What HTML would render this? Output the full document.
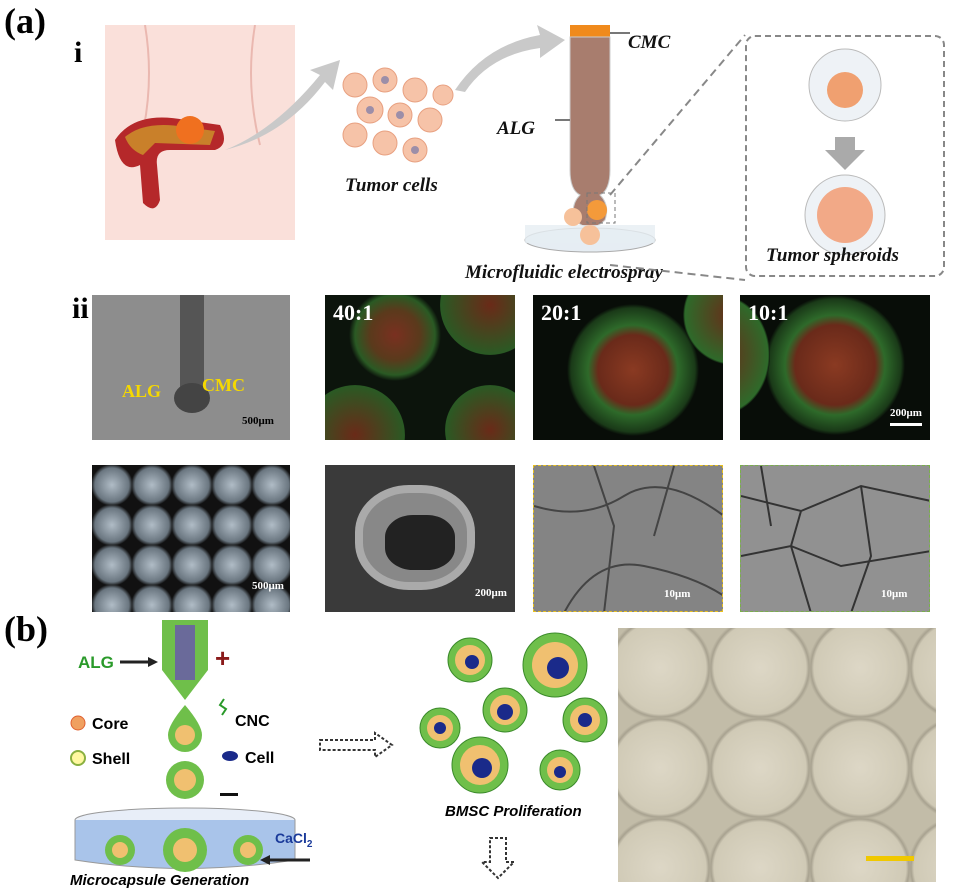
<!DOCTYPE html>
<html><head><meta charset="utf-8"><style>
body{margin:0;width:955px;height:890px;background:#fff;position:relative;overflow:hidden;font-family:"Liberation Serif",serif}
.a{position:absolute}
.lbl{font-weight:bold;font-style:italic;font-size:19px;color:#111}
.img{position:absolute;overflow:hidden}
.t{position:absolute;font-family:"Liberation Serif",serif;font-weight:bold;color:#fff}
.sb{position:absolute;height:3px;background:#fff}
</style></head><body>
<div class="a" style="left:4px;top:0;font-size:36px;font-weight:bold">(a)</div>
<div class="a" style="left:74px;top:36px;font-size:30px;font-weight:bold">i</div>
<svg class="a" style="left:95px;top:25px" width="215" height="220">
<path d="M10 0 H200 V215 H10 Z" fill="#fae0da"/>
<path d="M50 0 Q60 60 45 120 M160 0 Q150 60 165 120" stroke="#eab8b0" fill="none" stroke-width="2"/>
<path d="M20 115 Q40 85 90 95 L125 100 Q135 120 120 125 L75 125 Q60 125 62 140 L65 175 Q60 190 48 178 L45 140 Q25 150 20 115Z" fill="#b5282a"/>
<path d="M30 112 Q50 95 90 102 L120 106 L115 120 L60 118 L48 130 Q35 125 30 112Z" fill="#c9802a"/>
<circle cx="95" cy="105" r="14" fill="#f0701f"/>
</svg>
<svg class="a" style="left:215px;top:10px" width="360" height="160">
<path d="M10 140 Q60 120 105 65 L95 60 L125 50 L118 80 L110 72 Q70 125 10 140Z" fill="#c9c9c9"/>
<path d="M240 80 Q270 35 325 25 L322 15 L350 30 L325 48 L325 38 Q275 45 250 82Z" fill="#c9c9c9"/>
</svg>
<svg class="a" style="left:335px;top:65px" width="125" height="105">
<g fill="#f6c3a8" stroke="#e8a080">
<circle cx="20" cy="20" r="12"/><circle cx="50" cy="15" r="12"/><circle cx="80" cy="25" r="12"/><circle cx="35" cy="45" r="13"/><circle cx="65" cy="50" r="12"/><circle cx="95" cy="55" r="12"/><circle cx="20" cy="70" r="12"/><circle cx="50" cy="78" r="12"/><circle cx="80" cy="85" r="12"/><circle cx="108" cy="30" r="10"/></g>
<g fill="#9c8ea8"><circle cx="50" cy="15" r="4"/><circle cx="35" cy="45" r="4"/><circle cx="80" cy="85" r="4"/><circle cx="65" cy="50" r="4"/></g>
</svg>
<div class="a lbl" style="left:345px;top:175px">Tumor cells</div>
<svg class="a" style="left:515px;top:25px" width="150" height="245">
<rect x="55" y="0" width="40" height="12" fill="#f08a1c"/>
<path d="M55 12 V145 Q55 165 65 170 Q55 180 60 195 Q75 210 90 195 Q95 180 85 170 Q95 165 95 145 V12Z" fill="#a87d6e" stroke="#ccc"/>
<path d="M95 8 H115" stroke="#777" stroke-width="2"/><path d="M55 95 H40" stroke="#777" stroke-width="2"/>
<ellipse cx="75" cy="215" rx="65" ry="12" fill="#e6edf3" stroke="#aaa"/>
<rect x="10" y="200" width="130" height="18" fill="#e6edf3" opacity=".8"/>
<circle cx="82" cy="185" r="10" fill="#f49a3a"/><circle cx="58" cy="192" r="9" fill="#f6c19a"/><circle cx="75" cy="210" r="10" fill="#f6c19a"/>
<rect x="72" y="168" width="28" height="30" fill="none" stroke="#777" stroke-dasharray="4 3"/>
</svg>
<div class="a lbl" style="left:628px;top:32px">CMC</div>
<div class="a lbl" style="left:497px;top:118px">ALG</div>
<div class="a lbl" style="left:465px;top:262px">Microfluidic electrospray</div>
<svg class="a" style="left:600px;top:30px" width="150" height="260"><path d="M10 165 L145 5 M10 235 L145 250" stroke="#888" stroke-width="2" stroke-dasharray="8 5"/></svg>
<div class="a" style="left:745px;top:35px;width:196px;height:238px;border:2.5px dashed #888;border-radius:10px"></div>
<svg class="a" style="left:790px;top:45px" width="110" height="210">
<circle cx="55" cy="40" r="36" fill="#eef2f6" stroke="#bbb"/><circle cx="55" cy="45" r="18" fill="#f0a070"/>
<path d="M45 92 H65 V105 H75 L55 125 L35 105 H45Z" fill="#aaa"/>
<circle cx="55" cy="170" r="40" fill="#eef2f6" stroke="#bbb"/><circle cx="55" cy="170" r="28" fill="#f2a987"/>
</svg>
<div class="a lbl" style="left:766px;top:245px">Tumor spheroids</div>
<div class="a" style="left:72px;top:292px;font-size:30px;font-weight:bold">ii</div>
<div class="img" style="left:92px;top:295px;width:198px;height:145px;background:#8d8d8d">
<div class="a" style="left:88px;top:0;width:24px;height:100px;background:#555"></div>
<div class="a" style="left:82px;top:88px;width:36px;height:30px;border-radius:50%;background:#444"></div>
<div class="t" style="left:30px;top:86px;color:#f5d800;font-size:18px">ALG</div>
<div class="t" style="left:110px;top:80px;color:#f5d800;font-size:18px">CMC</div>
<div class="t" style="left:150px;top:120px;font-size:11px;color:#000">500μm</div>
</div>
<div class="img" style="left:325px;top:295px;width:190px;height:145px;background:
radial-gradient(circle at 70px 40px,#7a3020 0,#5a3a1c 25px,#2a5a24 40px,#0c140c 46px),#0c140c">
<div class="a" style="left:115px;top:-40px;width:100px;height:100px;border-radius:50%;background:radial-gradient(#6a2a18 0,#2a5a24 70%,#0c140c 72%)"></div>
<div class="a" style="left:-20px;top:90px;width:100px;height:100px;border-radius:50%;background:radial-gradient(#6a2a18 0,#2a5a24 70%,#0c140c 72%)"></div>
<div class="a" style="left:120px;top:90px;width:90px;height:90px;border-radius:50%;background:radial-gradient(#6a2a18 0,#2a5a24 70%,#0c140c 72%)"></div>
<div class="t" style="left:8px;top:5px;font-size:22px">40:1</div></div>
<div class="img" style="left:533px;top:295px;width:190px;height:145px;background:radial-gradient(circle at 100px 75px,#8a3a22 0,#6a2a1a 35px,#2e6a2a 45px,#1a3a18 62px,#080d08 66px)">
<div class="a" style="left:150px;top:-30px;width:100px;height:100px;border-radius:50%;background:radial-gradient(#6a2a18 0,#2e6a2a 68%,#080d08 71%)"></div>
<div class="t" style="left:8px;top:5px;font-size:22px">20:1</div></div>
<div class="img" style="left:740px;top:295px;width:190px;height:145px;background:radial-gradient(circle at 95px 70px,#8a3a22 0,#6a2a1a 40px,#2e6a2a 50px,#1a3a18 66px,#080d08 70px)">
<div class="a" style="left:-70px;top:0;width:100px;height:120px;border-radius:50%;background:radial-gradient(#6a2a18 0,#2e6a2a 68%,#080d08 71%)"></div>
<div class="t" style="left:8px;top:5px;font-size:22px">10:1</div><div class="t" style="left:150px;top:112px;font-size:11px">200μm</div><div class="sb" style="left:150px;top:128px;width:32px"></div></div>
<div class="img" style="left:92px;top:465px;width:198px;height:147px;background:radial-gradient(circle at 20px 20px,#b0bcc6 0,#6a7680 17px,#111 21px) 0 0/40px 40px,#111"><div class="t" style="left:160px;top:115px;font-size:11px">500μm</div></div>
<div class="img" style="left:325px;top:465px;width:190px;height:147px;background:#3a3a3a"><div class="a" style="left:30px;top:20px;width:120px;height:105px;border-radius:45%;background:#888;border:8px solid #aaa;box-sizing:border-box"></div><div class="a" style="left:60px;top:50px;width:70px;height:55px;background:#222;border-radius:40%"></div><div class="t" style="left:150px;top:122px;font-size:11px">200μm</div></div>
<div class="img" style="left:533px;top:465px;width:190px;height:147px;background:#848484;border:1.5px dashed #e8c020;box-sizing:border-box">
<svg width="190" height="147"><path d="M0 40 Q50 55 90 30 T190 50 M30 147 Q60 90 110 100 T190 130 M60 0 L80 60 L70 147 M140 0 L120 70" stroke="#444" fill="none" stroke-width="2"/></svg>
<div class="t" style="left:130px;top:122px;font-size:11px">10μm</div></div>
<div class="img" style="left:740px;top:465px;width:190px;height:147px;background:#919191;border:1.5px dashed #7ab04a;box-sizing:border-box">
<svg width="190" height="147"><path d="M0 30 L60 45 L120 20 L190 35 M0 90 L50 80 L100 100 L190 85 M60 45 L50 80 L70 147 M120 20 L130 90 L110 147 M20 0 L30 60" stroke="#333" fill="none" stroke-width="2"/></svg>
<div class="t" style="left:140px;top:122px;font-size:11px">10μm</div></div>
<div class="a" style="left:4px;top:608px;font-size:36px;font-weight:bold">(b)</div>
<svg class="a" style="left:70px;top:615px" width="350" height="275" font-family="Liberation Sans,sans-serif" font-weight="bold">
<text x="8" y="53" font-size="17" fill="#2a9a2a">ALG</text>
<path d="M50 47 H78" stroke="#222" stroke-width="3"/><path d="M78 42 L88 47 L78 52Z" fill="#222"/>
<path d="M92 5 H138 V55 L115 85 L92 55Z" fill="#6fbf4a"/><rect x="105" y="10" width="20" height="55" fill="#6a6a9a"/>
<text x="145" y="52" font-size="26" fill="#8a1a1a">+</text>
<path d="M115 90 Q98 110 98 120 A17 17 0 0 0 132 120 Q132 110 115 90Z" fill="#6fbf4a"/><circle cx="115" cy="120" r="10" fill="#f0c070"/>
<circle cx="115" cy="165" r="19" fill="#6fbf4a"/><circle cx="115" cy="165" r="11" fill="#f0c070"/>
<circle cx="8" cy="108" r="7" fill="#f0a060" stroke="#e06030"/><text x="22" y="114" font-size="16">Core</text>
<path d="M152 100 l4 -6 -6 -4 4 -6" stroke="#2a9a2a" fill="none" stroke-width="2"/><text x="165" y="111" font-size="16">CNC</text>
<circle cx="8" cy="143" r="7" fill="#fff8a0" stroke="#8ab040" stroke-width="2"/><text x="22" y="149" font-size="16">Shell</text>
<ellipse cx="160" cy="141" rx="8" ry="5" fill="#1a2a8a"/><text x="175" y="148" font-size="16">Cell</text>
<rect x="150" y="178" width="18" height="3" fill="#111"/>
<ellipse cx="115" cy="205" rx="110" ry="12" fill="#e8eef8" stroke="#999"/>
<path d="M5 205 V245 Q115 262 225 245 V205" fill="#a9c4ea" stroke="#999"/>
<circle cx="50" cy="235" r="15" fill="#6fbf4a"/><circle cx="115" cy="235" r="22" fill="#6fbf4a"/><circle cx="178" cy="235" r="15" fill="#6fbf4a"/>
<circle cx="50" cy="235" r="8" fill="#f0c070"/><circle cx="115" cy="235" r="12" fill="#f0c070"/><circle cx="178" cy="235" r="8" fill="#f0c070"/>
<text x="205" y="228" font-size="14" fill="#1a3a9a">CaCl<tspan font-size="10" dy="4">2</tspan></text>
<path d="M200 245 H240" stroke="#222" stroke-width="3"/><path d="M200 240 L190 245 L200 250Z" fill="#222"/>
<text x="0" y="270" font-size="15" font-style="italic">Microcapsule Generation</text>
<path d="M250 125 H305 V118 L322 130 L305 142 V135 H250Z" fill="none" stroke="#333" stroke-width="2" stroke-dasharray="3 2"/>
</svg>
<svg class="a" style="left:410px;top:620px" width="210" height="265" font-family="Liberation Sans,sans-serif">
<g fill="#6fbf4a" stroke="#3a8a2a"><circle cx="60" cy="40" r="22"/><circle cx="145" cy="45" r="32"/><circle cx="30" cy="108" r="20"/><circle cx="95" cy="90" r="22"/><circle cx="175" cy="100" r="22"/><circle cx="70" cy="145" r="28"/><circle cx="150" cy="150" r="20"/></g>
<g fill="#f0c070"><circle cx="60" cy="40" r="15"/><circle cx="145" cy="45" r="23"/><circle cx="30" cy="108" r="13"/><circle cx="95" cy="90" r="15"/><circle cx="175" cy="100" r="15"/><circle cx="70" cy="145" r="20"/><circle cx="150" cy="150" r="13"/></g>
<g fill="#1a2a8a"><circle cx="62" cy="42" r="7"/><circle cx="148" cy="48" r="11"/><circle cx="30" cy="108" r="6"/><circle cx="95" cy="92" r="8"/><circle cx="175" cy="100" r="7"/><circle cx="72" cy="148" r="10"/><circle cx="150" cy="152" r="6"/></g>
<text x="35" y="196" font-size="15" font-weight="bold" font-style="italic">BMSC Proliferation</text>
<path d="M80 218 H96 V242 H104 L88 258 L72 242 H80Z" fill="none" stroke="#333" stroke-width="2" stroke-dasharray="3 2"/>
</svg>
<div class="img" style="left:618px;top:628px;width:318px;height:254px;background:radial-gradient(circle at 50px 50px,#ddd7c6 0,#d0cab6 46px,#a8a290 49px,#c2bca8 52px) -8px -10px/100px 100px,#c2bca8">
<div class="a" style="left:248px;top:228px;width:48px;height:5px;background:#f0c800"></div></div>
</body></html>
